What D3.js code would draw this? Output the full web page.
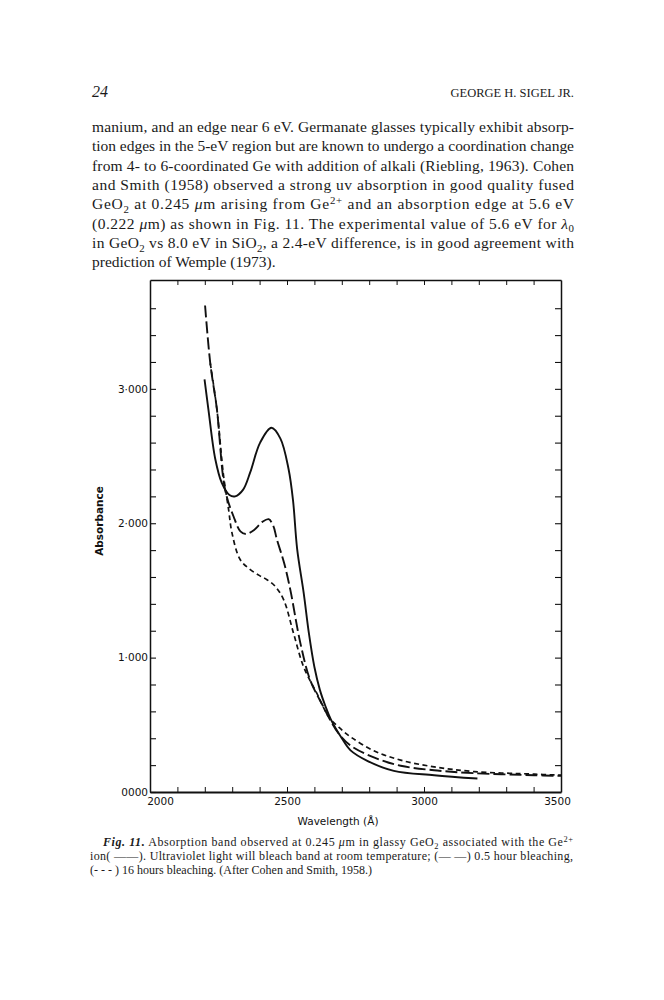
<!DOCTYPE html>
<html>
<head>
<meta charset="utf-8">
<script src="https://cdn.jsdelivr.net/npm/d3@7"></script>
<style>
  body { margin: 0; background: #fff; }
  svg { display: block; }
</style>
</head>
<body>
<div id="page"></div>
<script>

// Fig. 11 values (wavelength in A, absorbance)
const ionWl  = [2199, 2213, 2238, 2262, 2290, 2311, 2340, 2366, 2402, 2443, 2476, 2506, 2522, 2537, 2561, 2580, 2600, 2620, 2640, 2660, 2700, 2732, 2793, 2890, 3037, 3195];
const ionAbs = [3.07, 2.85, 2.48, 2.30, 2.21, 2.20, 2.25, 2.38, 2.60, 2.71, 2.63, 2.40, 2.17, 1.81, 1.48, 1.18, 0.93, 0.76, 0.64, 0.54, 0.40, 0.31, 0.232, 0.157, 0.125, 0.10];

const halfHourWl  = [2201, 2220, 2244, 2274, 2305, 2330, 2350, 2380, 2410, 2433, 2450, 2463, 2490, 2512, 2549, 2585, 2634, 2652, 2690, 2732, 2817, 2915, 3037, 3183, 3403, 3500];
const halfHourAbs = [3.62, 3.19, 2.85, 2.25, 2.05, 1.94, 1.92, 1.95, 2.01, 2.03, 1.98, 1.88, 1.70, 1.506, 1.106, 0.83, 0.63, 0.557, 0.43, 0.345, 0.257, 0.195, 0.162, 0.14, 0.125, 0.12];

const sixteenHourWl  = [2220, 2244, 2268, 2287, 2299, 2329, 2366, 2400, 2427, 2457, 2488, 2524, 2561, 2610, 2652, 2690, 2732, 2817, 2915, 3037, 3183, 3403, 3500];
const sixteenHourAbs = [3.19, 2.85, 2.36, 2.10, 1.93, 1.73, 1.655, 1.61, 1.58, 1.53, 1.43, 1.18, 0.93, 0.73, 0.56, 0.48, 0.41, 0.307, 0.237, 0.187, 0.152, 0.133, 0.125];

const xTicks = d3.range(2000, 3501, 100);
const xTickLabels = {2000: '2000', 2500: '2500', 3000: '3000', 3500: '3500'};
const yTicks = d3.range(0, 3.61, 0.2);
const yTickLabels = {0: '0000', 1: '1·000', 2: '2·000', 3: '3·000'};

// page text, one entry per printed line
const bodyLines = [
    [['manium, and an edge near 6 eV. Germanate glasses typically exhibit absorp-']],
    [['tion edges in the 5-eV region but are known to undergo a coordination change']],
    [['from 4- to 6-coordinated Ge with addition of alkali (Riebling, 1963). Cohen']],
    [['and Smith (1958) observed a strong uv absorption in good quality fused']],
    [['GeO'], ['2', 'sub'], [' at 0.245 '], ['μ', 'i'], ['m arising from Ge'], ['2+', 'sup'], [' and an absorption edge at 5.6 eV']],
    [['(0.222 '], ['μ', 'i'], ['m) as shown in Fig. 11. The experimental value of 5.6 eV for '], ['λ', 'i'], ['0', 'sub']],
    [['in GeO'], ['2', 'sub'], [' vs 8.0 eV in SiO'], ['2', 'sub'], [', a 2.4-eV difference, is in good agreement with']],
    [['prediction of Wemple (1973).']]
];

const captionLines = [
    [['Fig. 11.', 'bi'], ['   Absorption band observed at 0.245 '], ['μ', 'i'], ['m in glassy GeO'], ['2', 'sub'], [' associated with the Ge'], ['2+', 'sup']],
    [['ion( ——). Ultraviolet light will bleach band at room temperature; (— —) 0.5 hour bleaching,']],
    [['(- - - ) 16 hours bleaching. (After Cohen and Smith, 1958.)']]
];

const W = 664;
const H = 1000;

const svg = d3.select('#page')
    .append('svg')
    .attr('width', W)
    .attr('height', H);

svg.append('rect').attr('width', W).attr('height', H).attr('fill', '#fff');

function writeLine(parts, x, y, size, len) {
    const t = svg.append('text')
        .attr('x', x)
        .attr('y', y)
        .attr('font-family', '"Liberation Serif", "Times New Roman", serif')
        .attr('font-size', size)
        .attr('fill', '#1a1a1a');
    if (len) t.attr('textLength', len).attr('lengthAdjust', 'spacing');
    let shift = 0;
    parts.forEach(p => {
        const s = t.append('tspan').text(p[0]);
        let want = 0;
        if (p[1] === 'sub') { want = size * 0.25; s.attr('font-size', size * 0.7); }
        if (p[1] === 'sup') { want = -size * 0.35; s.attr('font-size', size * 0.7); }
        if (p[1] === 'i') s.attr('font-style', 'italic');
        if (p[1] === 'bi') s.attr('font-style', 'italic').attr('font-weight', 'bold');
        if (want !== shift) { s.attr('dy', want - shift); shift = want; }
    });
    return t;
}

// running head
svg.append('text')
    .attr('x', 92).attr('y', 97)
    .attr('font-family', '"Liberation Serif", serif')
    .attr('font-style', 'italic')
    .attr('font-size', 16)
    .attr('fill', '#1a1a1a')
    .text('24');

svg.append('text')
    .attr('x', 574).attr('y', 97)
    .attr('text-anchor', 'end')
    .attr('font-family', '"Liberation Serif", serif')
    .attr('font-size', 12.5)
    .attr('fill', '#1a1a1a')
    .text('GEORGE H. SIGEL JR.');

bodyLines.forEach((parts, i) => {
    writeLine(parts, 92, 132 + i * 19.3, 15.5, i < bodyLines.length - 1 ? 482 : null);
});

// chart
const x = d3.scaleLinear([2000, 3500], [150, 561]);
const y = d3.scaleLinear([0, 3.81], [792, 280]);

const axisColor = '#111';
const tickFont = '"DejaVu Sans", sans-serif';

svg.append('g')
    .attr('transform', 'translate(0,' + y(0) + ')')
    .call(d3.axisBottom(x).tickValues(xTicks).tickSizeInner(-5).tickSizeOuter(0).tickPadding(6)
        .tickFormat(d => xTickLabels[d] || ''))
    .call(g => g.select('.domain').attr('stroke-width', 2.2).attr('stroke', axisColor))
    .call(g => g.selectAll('.tick line').attr('stroke', axisColor).attr('stroke-width', 1))
    .call(g => g.selectAll('.tick text')
        .attr('font-family', tickFont).attr('font-size', 10.5).attr('fill', '#111')
        .attr('dx', d => d === 2000 ? 10 : d === 3500 ? -4 : 0));

svg.append('g')
    .attr('transform', 'translate(0,' + y(3.81) + ')')
    .call(d3.axisTop(x).tickValues(xTicks.slice(1, -1)).tickSizeInner(-5).tickSizeOuter(0).tickFormat(''))
    .call(g => g.select('.domain').attr('stroke-width', 1.3).attr('stroke', axisColor))
    .call(g => g.selectAll('.tick line').attr('stroke', axisColor).attr('stroke-width', 1));

svg.append('g')
    .attr('transform', 'translate(' + x(2000) + ',0)')
    .call(d3.axisLeft(y).tickValues(yTicks).tickSizeInner(-6).tickSizeOuter(0).tickPadding(2)
        .tickFormat(d => yTickLabels[Math.round(d * 10) / 10] || ''))
    .call(g => g.select('.domain').attr('stroke-width', 1.5).attr('stroke', axisColor))
    .call(g => g.selectAll('.tick line').attr('stroke', axisColor).attr('stroke-width', 1.1))
    .call(g => g.selectAll('.tick text')
        .attr('font-family', tickFont).attr('font-size', 10.5).attr('fill', '#111'));

svg.append('g')
    .attr('transform', 'translate(' + x(3500) + ',0)')
    .call(d3.axisRight(y).tickValues(yTicks.slice(1)).tickSizeInner(-6).tickSizeOuter(0).tickFormat(''))
    .call(g => g.select('.domain').attr('stroke-width', 1.5).attr('stroke', axisColor))
    .call(g => g.selectAll('.tick line').attr('stroke', axisColor).attr('stroke-width', 1.1));

svg.append('text')
    .attr('transform', 'translate(103,' + 521 + ') rotate(-90)')
    .attr('text-anchor', 'middle')
    .attr('font-family', tickFont)
    .attr('font-weight', 'bold')
    .attr('font-size', 10.5)
    .attr('fill', '#111')
    .text('Absorbance');

svg.append('text')
    .attr('x', 338).attr('y', 825)
    .attr('text-anchor', 'middle')
    .attr('font-family', tickFont)
    .attr('font-size', 10.5)
    .attr('fill', '#111')
    .text('Wavelength  (Å)');

const line = d3.line()
    .x(d => x(d[0]))
    .y(d => y(d[1]))
    .curve(d3.curveCatmullRom.alpha(0.5));

const series = [
    {wl: sixteenHourWl, abs: sixteenHourAbs, dash: '5,3.5', width: 1.7},
    {wl: halfHourWl, abs: halfHourAbs, dash: '12,4', width: 1.9},
    {wl: ionWl, abs: ionAbs, dash: null, width: 1.9}
];

series.forEach(s => {
    svg.append('path')
        .attr('d', line(d3.zip(s.wl, s.abs)))
        .attr('fill', 'none')
        .attr('stroke', '#111')
        .attr('stroke-width', s.width)
        .attr('stroke-dasharray', s.dash);
});

// caption
const capLens = [470, 483, null];
captionLines.forEach((parts, i) => {
    writeLine(parts, i === 0 ? 103 : 90, 846 + i * 14, 12, capLens[i]);
});

</script>
</body>
</html>
